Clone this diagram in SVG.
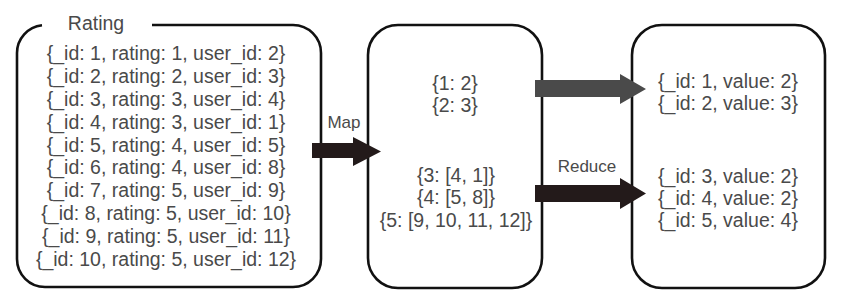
<svg xmlns="http://www.w3.org/2000/svg" width="841" height="302" viewBox="0 0 841 302">
<style>
.box{fill:none;stroke:#111;stroke-width:2.6}
.t{font-family:"Liberation Sans",Arial,sans-serif;font-size:19.5px;fill:#4a4a4a;text-anchor:middle}
.lbl{font-family:"Liberation Sans",Arial,sans-serif;font-size:17px;fill:#4a4a4a;text-anchor:middle}
</style>
<rect width="841" height="302" fill="#fff"/>
<g id="rating">
<path class="box" d="M152 25 H293 A28 28 0 0 1 321 53 V259 A28 28 0 0 1 293 287 H45 A28 28 0 0 1 17 259 V53 A28 28 0 0 1 42 25.2"/>
<text class="t" x="96" y="30">Rating</text>
<text class="t" x="166" y="60">{_id: 1, rating: 1, user_id: 2}</text>
<text class="t" x="166" y="83">{_id: 2, rating: 2, user_id: 3}</text>
<text class="t" x="166" y="106">{_id: 3, rating: 3, user_id: 4}</text>
<text class="t" x="166" y="129">{_id: 4, rating: 3, user_id: 1}</text>
<text class="t" x="166" y="152">{_id: 5, rating: 4, user_id: 5}</text>
<text class="t" x="166" y="174">{_id: 6, rating: 4, user_id: 8}</text>
<text class="t" x="166" y="197">{_id: 7, rating: 5, user_id: 9}</text>
<text class="t" x="166" y="220">{_id: 8, rating: 5, user_id: 10}</text>
<text class="t" x="166" y="243">{_id: 9, rating: 5, user_id: 11}</text>
<text class="t" x="166" y="266">{_id: 10, rating: 5, user_id: 12}</text>
</g>
<g id="mapped">
<rect class="box" x="368" y="25" width="174" height="263" rx="30"/>
<text class="t" x="455" y="90">{1: 2}</text>
<text class="t" x="455" y="112">{2: 3}</text>
<text class="t" x="456" y="182">{3: [4, 1]}</text>
<text class="t" x="456" y="204">{4: [5, 8]}</text>
<text class="t" x="456" y="227">{5: [9, 10, 11, 12]}</text>
</g>
<g id="result">
<rect class="box" x="632" y="25" width="193" height="263" rx="30"/>
<text class="t" x="728" y="88">{_id: 1, value: 2}</text>
<text class="t" x="728" y="110">{_id: 2, value: 3}</text>
<text class="t" x="728" y="183">{_id: 3, value: 2}</text>
<text class="t" x="728" y="205">{_id: 4, value: 2}</text>
<text class="t" x="728" y="227">{_id: 5, value: 4}</text>
</g>
<g id="connectors">
<polygon fill="#231a1a" points="312,143 353,143 353,137 381,151.5 353,166 353,158 312,158"/>
<text class="lbl" x="344" y="128">Map</text>
<polygon fill="#4a4a4a" points="535,80 620,80 620,74 646,89 620,104 620,97 535,97"/>
<polygon fill="#231a1a" points="535,185 620,185 620,178 646,193.5 620,209 620,202 535,202"/>
<text class="lbl" x="587" y="172">Reduce</text>
</g>
</svg>
